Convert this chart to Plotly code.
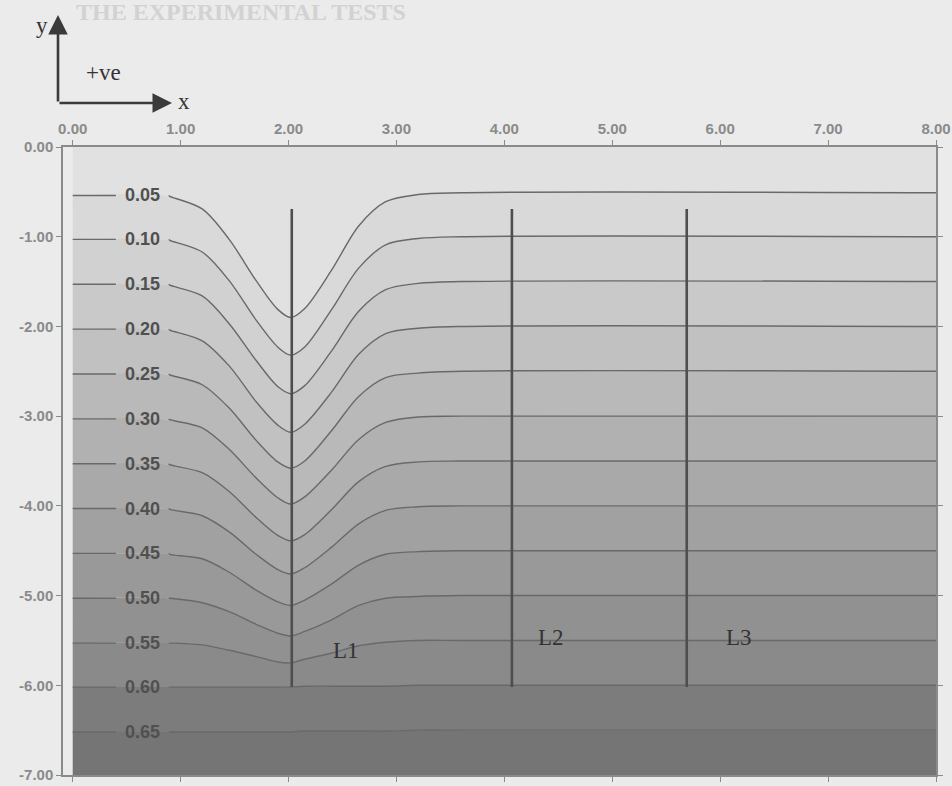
import plotly.graph_objects as go

# ---------------------------------------------------------------------------
# Data
# ---------------------------------------------------------------------------
# x stations (m) at which every contour depth is given
X_PTS = [0.0, 0.9, 1.2, 1.45, 1.7, 1.9, 2.02, 2.15, 2.4, 2.65, 2.9, 3.2, 3.6, 8.0]

# contour depths y (m) at the stations above, one list per contour level
y_005 = [-0.54, -0.55, -0.69, -1.03, -1.49, -1.81, -1.90, -1.80, -1.37, -0.88, -0.61, -0.53, -0.51, -0.51]
y_010 = [-1.03, -1.04, -1.17, -1.49, -1.93, -2.23, -2.32, -2.23, -1.81, -1.35, -1.09, -1.02, -1.00, -1.00]
y_015 = [-1.53, -1.54, -1.66, -1.97, -2.38, -2.67, -2.75, -2.66, -2.27, -1.83, -1.59, -1.52, -1.50, -1.50]
y_020 = [-2.03, -2.04, -2.16, -2.44, -2.84, -3.10, -3.18, -3.09, -2.73, -2.31, -2.08, -2.02, -2.00, -2.00]
y_025 = [-2.53, -2.54, -2.65, -2.91, -3.27, -3.51, -3.58, -3.50, -3.16, -2.78, -2.57, -2.52, -2.50, -2.50]
y_030 = [-3.03, -3.04, -3.13, -3.37, -3.69, -3.91, -3.98, -3.90, -3.60, -3.26, -3.07, -3.01, -3.00, -3.00]
y_035 = [-3.53, -3.54, -3.63, -3.84, -4.13, -4.33, -4.39, -4.32, -4.04, -3.73, -3.56, -3.51, -3.50, -3.50]
y_040 = [-4.03, -4.04, -4.11, -4.29, -4.54, -4.71, -4.76, -4.69, -4.46, -4.20, -4.05, -4.01, -4.00, -4.00]
y_045 = [-4.53, -4.54, -4.59, -4.74, -4.94, -5.07, -5.11, -5.05, -4.87, -4.66, -4.54, -4.51, -4.50, -4.50]
y_050 = [-5.03, -5.03, -5.08, -5.18, -5.32, -5.42, -5.45, -5.40, -5.27, -5.11, -5.03, -5.01, -5.00, -5.00]
y_055 = [-5.53, -5.53, -5.55, -5.61, -5.68, -5.74, -5.75, -5.71, -5.64, -5.56, -5.52, -5.50, -5.50, -5.50]
y_060 = [-6.02, -6.02, -6.02, -6.02, -6.02, -6.02, -6.02, -6.01, -6.01, -6.01, -6.01, -6.00, -6.00, -6.00]
y_065 = [-6.52, -6.52, -6.52, -6.52, -6.52, -6.52, -6.52, -6.51, -6.51, -6.51, -6.51, -6.50, -6.50, -6.50]

LEVELS = [0.05, 0.10, 0.15, 0.20, 0.25, 0.30, 0.35, 0.40, 0.45, 0.50, 0.55, 0.60, 0.65]
LEVEL_DEPTHS = [y_005, y_010, y_015, y_020, y_025, y_030, y_035, y_040, y_045, y_050, y_055, y_060, y_065]

# measuring lines: name, x position, top and bottom depth
SECTION_NAMES = ["L1", "L2", "L3"]
SECTION_X = [2.03, 4.07, 5.69]
SECTION_TOP = -0.69
SECTION_BOTTOM = -6.02

# axes
X_TICKS = [0, 1, 2, 3, 4, 5, 6, 7, 8]
Y_TICKS = [0, -1, -2, -3, -4, -5, -6, -7]
X_RANGE = [-0.09, 8.0]
Y_RANGE = [-7.0, 0.0]
DOMAIN_X = [0.0, 8.0]

# ---------------------------------------------------------------------------
# Styling
# ---------------------------------------------------------------------------
PAPER = "#ebebeb"
AXIS_GREY = "#8a8a8a"
LINE_GREY = "#696969"
LABEL_GREY = "#505050"
SECTION_GREY = "#4e4e4e"
BAND_GREYS = [225, 217, 209, 201, 193, 185, 177, 169, 161, 153, 145, 138, 124, 117]
LABEL_X = 0.65           # centre of the inline contour labels
LABEL_GAP = (0.40, 0.89)  # break in each contour line around its label
SANS = "Liberation Sans, Arial, sans-serif"
SERIF = "Liberation Serif, Times New Roman, serif"

PLOT_LEFT, PLOT_RIGHT, PLOT_TOP, PLOT_BOTTOM = 63, 936, 147, 775


def grey(v):
    return f"rgb({v},{v},{v})"


def paper_xy(px, py):
    """Pixel position on the page -> paper coordinates of the plot area."""
    return ((px - PLOT_LEFT) / (PLOT_RIGHT - PLOT_LEFT),
            (PLOT_BOTTOM - py) / (PLOT_BOTTOM - PLOT_TOP))


fig = go.Figure()

# filled bands, from the surface down to the bottom of the domain
fig.add_trace(go.Scatter(x=DOMAIN_X, y=[Y_RANGE[1]] * 2, mode="lines",
                         line=dict(width=0), hoverinfo="skip", showlegend=False))
for i, depths in enumerate(LEVEL_DEPTHS):
    fig.add_trace(go.Scatter(x=X_PTS, y=depths, mode="lines",
                             line=dict(width=0, shape="spline", smoothing=0.9),
                             fill="tonexty", fillcolor=grey(BAND_GREYS[i]),
                             hoverinfo="skip", showlegend=False))
fig.add_trace(go.Scatter(x=DOMAIN_X, y=[Y_RANGE[0]] * 2, mode="lines",
                         line=dict(width=0), fill="tonexty",
                         fillcolor=grey(BAND_GREYS[-1]),
                         hoverinfo="skip", showlegend=False))

# contour lines, broken where the level label sits
for level, depths in zip(LEVELS, LEVEL_DEPTHS):
    xs = [X_PTS[0], LABEL_GAP[0], None, LABEL_GAP[1]]
    ys = [depths[0], depths[0], None, depths[0]]
    for x, y in zip(X_PTS, depths):
        if x > LABEL_GAP[1]:
            xs.append(x)
            ys.append(y)
    fig.add_trace(go.Scatter(x=xs, y=ys, mode="lines", connectgaps=False,
                             line=dict(color=LINE_GREY, width=1.4,
                                       shape="spline", smoothing=0.9),
                             hoverinfo="skip", showlegend=False))
    fig.add_annotation(x=LABEL_X, y=depths[0], text=f"{level:.2f}",
                       showarrow=False, xanchor="center", yanchor="middle",
                       font=dict(family=SANS, size=18, color=LABEL_GREY, weight="bold"))

# measuring lines L1-L3
for name, sx in zip(SECTION_NAMES, SECTION_X):
    fig.add_trace(go.Scatter(x=[sx, sx], y=[SECTION_TOP, SECTION_BOTTOM], mode="lines",
                             line=dict(color=SECTION_GREY, width=2.6),
                             hoverinfo="skip", showlegend=False))

LABEL_POS = {"L1": (2.53, -5.61), "L2": (4.43, -5.47), "L3": (6.17, -5.47)}
for name in SECTION_NAMES:
    lx, ly = LABEL_POS[name]
    fig.add_annotation(x=lx, y=ly, text=name, showarrow=False,
                       xanchor="center", yanchor="middle",
                       font=dict(family=SERIF, size=23, color="#333333"))

# orientation sketch in the top-left corner
ARROW = dict(xref="paper", yref="paper", axref="pixel", ayref="pixel", text="",
             showarrow=True, arrowhead=2, arrowsize=1.5, arrowwidth=2.6,
             arrowcolor="#3a3a3a", standoff=0)
hx, hy = paper_xy(58, 15)
fig.add_annotation(x=hx, y=hy, ax=0, ay=88, **ARROW)
hx, hy = paper_xy(172, 103)
fig.add_annotation(x=hx, y=hy, ax=-114, ay=0, **ARROW)
for txt, px, py in [("y", 42, 26), ("+ve", 103, 72), ("x", 184, 102)]:
    ax_, ay_ = paper_xy(px, py)
    fig.add_annotation(x=ax_, y=ay_, xref="paper", yref="paper", text=txt,
                       xanchor="center", yanchor="middle", showarrow=False,
                       font=dict(family=SERIF, size=23, color="#333333"))

# faint page heading
tx, ty = paper_xy(74, 12)
fig.add_annotation(x=tx, y=ty, xref="paper", yref="paper",
                   xanchor="left", yanchor="middle",
                   text="THE EXPERIMENTAL TESTS", showarrow=False,
                   font=dict(family=SERIF, size=24, color="#d2d2d2", weight="bold"))

axis_common = dict(showline=True, linecolor=AXIS_GREY, linewidth=1.5, mirror="ticks",
                   ticks="outside", ticklen=5, tickwidth=1.3, tickcolor=AXIS_GREY,
                   showgrid=False, zeroline=False, automargin=False,
                   ticklabeloverflow="allow",
                   tickfont=dict(family=SANS, size=15, color=AXIS_GREY, weight="bold"))

fig.update_layout(
    width=952, height=786,
    margin=dict(l=PLOT_LEFT, r=952 - PLOT_RIGHT, t=PLOT_TOP, b=786 - PLOT_BOTTOM,
                autoexpand=False),
    paper_bgcolor=PAPER, plot_bgcolor=PAPER,
    xaxis=dict(range=X_RANGE, side="top", tickvals=X_TICKS,
               ticktext=[f"{v:.2f}" for v in X_TICKS], **axis_common),
    yaxis=dict(range=Y_RANGE, tickvals=Y_TICKS,
               ticktext=[f"{v:.2f}" for v in Y_TICKS], **axis_common),
    showlegend=False,
)

fig.write_html("out.html")
